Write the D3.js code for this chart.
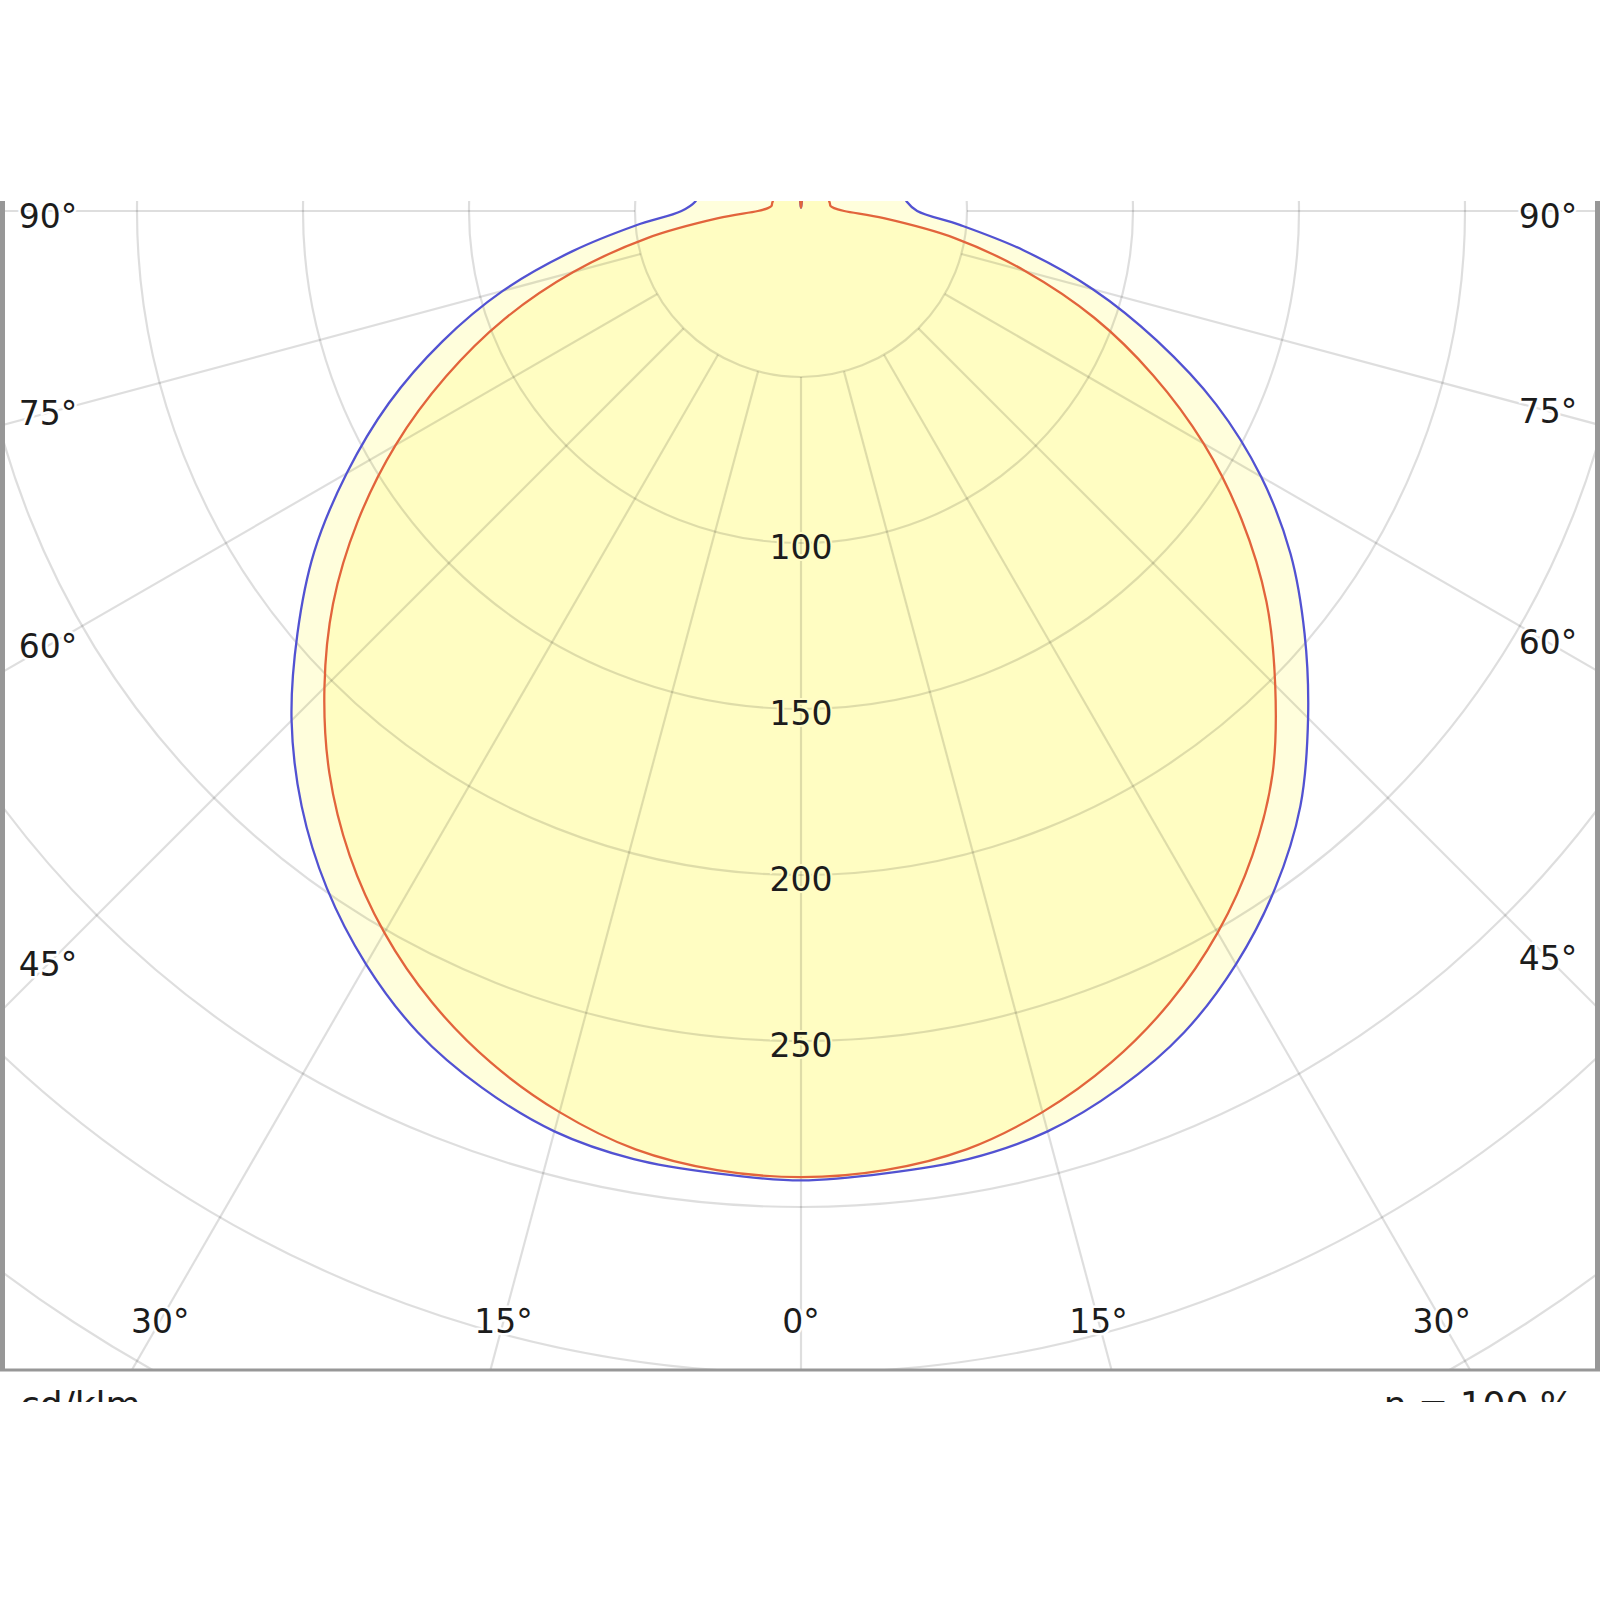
<!DOCTYPE html>
<html>
<head>
<meta charset="utf-8">
<script src="https://cdn.jsdelivr.net/npm/d3@7/dist/d3.min.js"></script>
<style>
  html, body { margin: 0; padding: 0; background: #ffffff; }
  svg { display: block; }
</style>
</head>
<body>
<svg id="chart" width="1600" height="1600"></svg>
<script>
// ---------------- DATA ----------------
const gammaAngles = [0,5,10,15,20,25,30,35,40,45,50,55,60,65,70,75,80,85,90,95,100,105,110,115,120,125,130,135,140,145,150,155,160,165,170,175,180];
// C0 / C180 plane (blue), cd/klm
const blueC0   = [292,291,290,287,281,273,262,249,234,217,198,179,158,137,115,93,70,50,36,32,31,30,30,29,29,28,28,27,26,25,23,20,16,11,6,3,1];
const blueC180 = [292,291,290,287,281,273,262,249,234,216,198,180,160,138,114,91,68,48,35,32,31,30,30,29,29,28,28,27,26,25,23,20,16,11,6,3,1];
// C90 / C270 plane (red), cd/klm
const redC90   = [291,290,287,281,273,263,251,237,221,203,184,163,141,118,95,71,47,25,13,10,9,9,9,9,9,9,9,9,10,10,11,12,12,11,8,4,1];
const redC270  = [291,290,287,281,273,263,251,237,221,202,183,162,140,117,94,70,47,25,13,10,9,9,9,9,9,9,9,9,10,10,11,12,12,11,8,4,1];

const ringValues  = [50,100,150,200,250,300,350,400,450];
const ringLabels  = [100,150,200,250];
const angleTicks  = [0,15,30,45,60,75,90];
const unitLabel   = "cd/klm";
const effLabel    = "\u03B7 = 100 %";

// ---------------- LAYOUT ----------------
const cx = 801, cy = 211;
const frame = { left: 5, right: 1595, top: 201, bottom: 1369 };
const picBottom = 1402;
const fontFamily = "'DejaVu Sans', Verdana, sans-serif";

const r = d3.scaleLinear().domain([0, 50]).range([0, 166]);
const rad = d3.scaleLinear().domain([0, 180]).range([0, Math.PI]);

const svg = d3.select("#chart");
const defs = svg.append("defs");
defs.append("clipPath").attr("id", "plotClip")
  .append("rect")
  .attr("x", frame.left).attr("y", frame.top)
  .attr("width", frame.right - frame.left).attr("height", frame.bottom - frame.top);
defs.append("clipPath").attr("id", "picClip")
  .append("rect")
  .attr("x", 0).attr("y", frame.top)
  .attr("width", 1600).attr("height", picBottom - frame.top);

const pic = svg.append("g").attr("clip-path", "url(#picClip)");
const plot = pic.append("g").attr("clip-path", "url(#plotClip)");
const center = plot.append("g").attr("transform", `translate(${cx},${cy})`);

// closed polar path: left half from 180 -> 0, right half from 0 -> 180
function curvePoints(leftVals, rightVals) {
  const pts = [];
  for (let i = gammaAngles.length - 1; i >= 0; i--) {
    pts.push({ a: Math.PI + rad(gammaAngles[i]), v: leftVals[i] });
  }
  for (let i = 1; i < gammaAngles.length - 1; i++) {
    pts.push({ a: Math.PI - rad(gammaAngles[i]), v: rightVals[i] });
  }
  return pts;
}
const radialLine = d3.lineRadial()
  .angle(d => d.a)
  .radius(d => r(d.v))
  .curve(d3.curveCatmullRomClosed.alpha(0.5));

const curves = [
  { name: "C0-C180",  left: blueC0, right: blueC180, color: "#5252d2" },
  { name: "C90-C270", left: redC90, right: redC270,  color: "#e2643c" }
];

// fills (two semi-transparent layers)
center.selectAll("path.fill")
  .data(curves)
  .join("path")
  .attr("class", "fill")
  .attr("d", d => radialLine(curvePoints(d.left, d.right)))
  .attr("fill", "rgb(255,250,118)")
  .attr("fill-opacity", 0.26)
  .attr("stroke", "none");

// grid: rings
const gridColor = "rgba(0,0,0,0.13)";
center.selectAll("circle.ring")
  .data(ringValues)
  .join("circle")
  .attr("class", "ring")
  .attr("r", d => r(d))
  .attr("fill", "none")
  .attr("stroke", gridColor)
  .attr("stroke-width", 2.2);

// grid: radial lines (start at first ring)
const radialAngles = [];
angleTicks.forEach(g => {
  radialAngles.push({ g: g, s: -1 });
  if (g !== 0) radialAngles.push({ g: g, s: 1 });
});
const rStart = r(ringValues[0]);
const rEnd = 3000;
center.selectAll("line.spoke")
  .data(radialAngles)
  .join("line")
  .attr("class", "spoke")
  .attr("x1", d => d.s * rStart * Math.sin(rad(d.g)))
  .attr("y1", d => rStart * Math.cos(rad(d.g)))
  .attr("x2", d => d.s * rEnd * Math.sin(rad(d.g)))
  .attr("y2", d => rEnd * Math.cos(rad(d.g)))
  .attr("stroke", gridColor)
  .attr("stroke-width", 2.2);

// curve strokes
center.selectAll("path.curve")
  .data(curves)
  .join("path")
  .attr("class", "curve")
  .attr("d", d => radialLine(curvePoints(d.left, d.right)))
  .attr("fill", "none")
  .attr("stroke", d => d.color)
  .attr("stroke-width", 2.3)
  .attr("stroke-linejoin", "round");

// ring value labels
const fs = 33;
center.selectAll("text.ringlab")
  .data(ringLabels)
  .join("text")
  .attr("class", "ringlab")
  .attr("x", 0)
  .attr("y", d => r(d) + 4 + fs * 0.365)
  .attr("text-anchor", "middle")
  .attr("font-family", fontFamily)
  .attr("font-size", fs)
  .attr("fill", "#1c1c1c")
  .attr("stroke", "#fffcc6")
  .attr("stroke-width", 4)
  .attr("paint-order", "stroke")
  .text(d => d);

// angle labels: placed on each spoke near the frame edge
const labelBottomY = 1321;
const labelSideInset = 48;
const labelMinY = frame.top + 15;
const angleLabelData = radialAngles.map(d => {
  const g = rad(d.g);
  const tB = Math.cos(g) > 1e-6 ? (labelBottomY - cy) / Math.cos(g) : Infinity;
  const sideX = d.s < 0 ? labelSideInset : 1600 - labelSideInset - 4;
  const tS = Math.sin(g) > 1e-6 ? Math.abs(cx - sideX) / Math.sin(g) : Infinity;
  if (tB <= tS) {
    return { text: d.g + "\u00B0", x: cx + d.s * tB * Math.sin(g), y: labelBottomY };
  }
  return { text: d.g + "\u00B0", x: sideX, y: Math.max(labelMinY, cy + tS * Math.cos(g)) };
});
pic.selectAll("text.anglab")
  .data(angleLabelData)
  .join("text")
  .attr("class", "anglab")
  .attr("x", d => d.x)
  .attr("y", d => d.y + fs * 0.365)
  .attr("text-anchor", "middle")
  .attr("font-family", fontFamily)
  .attr("font-size", fs)
  .attr("fill", "#1c1c1c")
  .attr("stroke", "#ffffff")
  .attr("stroke-width", 5)
  .attr("paint-order", "stroke")
  .text(d => d.text);

// frame borders
const frameColor = "#979797";
pic.append("line")
  .attr("x1", 2.5).attr("x2", 2.5).attr("y1", frame.top).attr("y2", frame.bottom + 2)
  .attr("stroke", frameColor).attr("stroke-width", 5);
pic.append("line")
  .attr("x1", 1597.5).attr("x2", 1597.5).attr("y1", frame.top).attr("y2", frame.bottom + 2)
  .attr("stroke", frameColor).attr("stroke-width", 5);
pic.append("line")
  .attr("x1", 0).attr("x2", 1600).attr("y1", frame.bottom + 1).attr("y2", frame.bottom + 1)
  .attr("stroke", frameColor).attr("stroke-width", 3);

// bottom captions (cut by picture edge)
pic.append("text")
  .attr("x", 20).attr("y", 1417)
  .attr("font-family", fontFamily).attr("font-size", 36)
  .attr("fill", "#1c1c1c")
  .text(unitLabel);
pic.append("text")
  .attr("x", 1574).attr("y", 1417)
  .attr("text-anchor", "end")
  .attr("font-family", fontFamily).attr("font-size", 36)
  .attr("fill", "#1c1c1c")
  .text(effLabel);
</script>
</body>
</html>
